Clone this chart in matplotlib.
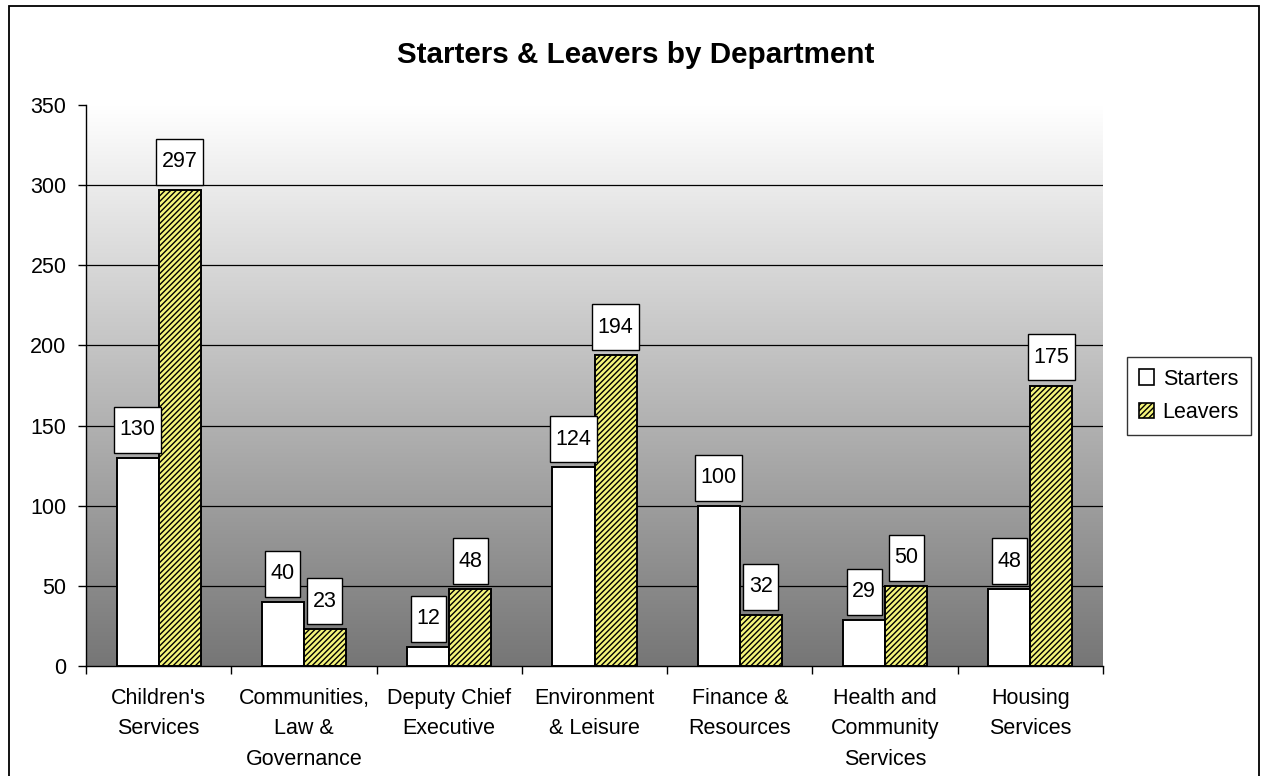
import numpy as np
import matplotlib
matplotlib.use("Agg")
import matplotlib.pyplot as plt
import matplotlib.transforms as mtransforms
from matplotlib.patches import Rectangle
from matplotlib.colors import LinearSegmentedColormap

plt.rcParams['font.family'] = ['Liberation Sans', 'DejaVu Sans']
plt.rcParams['hatch.linewidth'] = 1.0

departments = ["Children's\nServices", "Communities,\nLaw &\nGovernance",
               "Deputy Chief\nExecutive", "Environment\n& Leisure",
               "Finance &\nResources", "Health and\nCommunity\nServices",
               "Housing\nServices"]
starters = [130, 40, 12, 124, 100, 29, 48]
leavers = [297, 23, 48, 194, 32, 50, 175]
yticks = [0, 50, 100, 150, 200, 250, 300, 350]

DPI = 100
FS = 15.5
fig = plt.figure(figsize=(12.66, 7.76), dpi=DPI)
fig.patch.set_facecolor('white')

# outer frame
fig.add_artist(Rectangle((9 / 1266, -0.05), (1259 - 9) / 1266, 1.05 - 6 / 776,
                         transform=fig.transFigure, fill=False,
                         edgecolor='black', linewidth=1.3))

ax = fig.add_axes([86 / 1266, 1 - 666 / 776, (1103 - 86) / 1266, (666 - 105) / 776])
n = len(departments)

# gradient backdrop, white at the top fading to grey at the bottom
cmap = LinearSegmentedColormap.from_list('bg', ['#ffffff', '#767676'])
grad = np.linspace(0, 1, 256).reshape(-1, 1)
ax.imshow(grad, cmap=cmap, aspect='auto', extent=(0, n, 0, 350), origin='upper',
          zorder=0, interpolation='bilinear')
ax.set_xlim(0, n)
ax.set_ylim(0, 350)

for y in yticks[1:-1]:
    ax.axhline(y, color='black', linewidth=0.9, zorder=1)

bw = 0.29
x = np.arange(n) + 0.5
ax.bar(x - bw / 2, starters, width=bw, color='white', edgecolor='black',
       linewidth=1.4, zorder=3, label='Starters')
ax.bar(x + bw / 2, leavers, width=bw, color='#f4f47a', edgecolor='black',
       hatch='//////', linewidth=1.4, zorder=3, label='Leavers')

# value boxes above bars
scale = mtransforms.Affine2D().scale(DPI / 72.0)
k = 72.0 / DPI
for xs, vals in ((x - bw / 2, starters), (x + bw / 2, leavers)):
    for xi, v in zip(xs, vals):
        s = str(v)
        w_px = len(s) * 12.0 + 11
        h_px = 46
        gap = 5
        tr = scale + mtransforms.ScaledTranslation(xi, v, ax.transData)
        rect = Rectangle((-w_px / 2 * k, gap * k), w_px * k, h_px * k,
                         transform=tr, facecolor='white', edgecolor='black',
                         linewidth=1.0, zorder=4, clip_on=False)
        ax.add_artist(rect)
        ax.text(0, (gap + h_px / 2) * k, s, transform=tr, ha='center',
                va='center', fontsize=FS, zorder=5)

for sp in ('top', 'right'):
    ax.spines[sp].set_visible(False)
ax.spines['left'].set_linewidth(1.0)
ax.spines['bottom'].set_linewidth(1.0)

ax.set_yticks(yticks)
ax.tick_params(axis='y', labelsize=FS, length=6, width=1, direction='out', pad=8)
ax.set_xticks(np.arange(n + 1))
ax.set_xticklabels([])
ax.tick_params(axis='x', length=6, width=1, direction='out')
for xi, lab in zip(x, departments):
    ax.text(xi, -0.039, lab, transform=ax.get_xaxis_transform(), ha='center',
            va='top', fontsize=FS, linespacing=1.6)

fig.text(636 / 1266, 1 - 55 / 776, 'Starters & Leavers by Department',
         ha='center', va='center', fontsize=21.3, fontweight='bold')

handles = [Rectangle((0, 0), 1, 1, facecolor='white', edgecolor='black', linewidth=1.2),
           Rectangle((0, 0), 1, 1, facecolor='#f4f47a', edgecolor='black',
                     hatch='//////', linewidth=1.2)]
leg = fig.legend(handles, ['Starters', 'Leavers'], loc='center',
                 bbox_to_anchor=(1189 / 1266, 1 - 396 / 776), fontsize=FS,
                 frameon=True, fancybox=False, edgecolor='black',
                 handlelength=0.7, handleheight=0.7, handletextpad=0.4,
                 labelspacing=0.6, borderpad=0.55, borderaxespad=0)
leg.get_frame().set_linewidth(1.0)

fig.savefig('out.png', dpi=DPI)
